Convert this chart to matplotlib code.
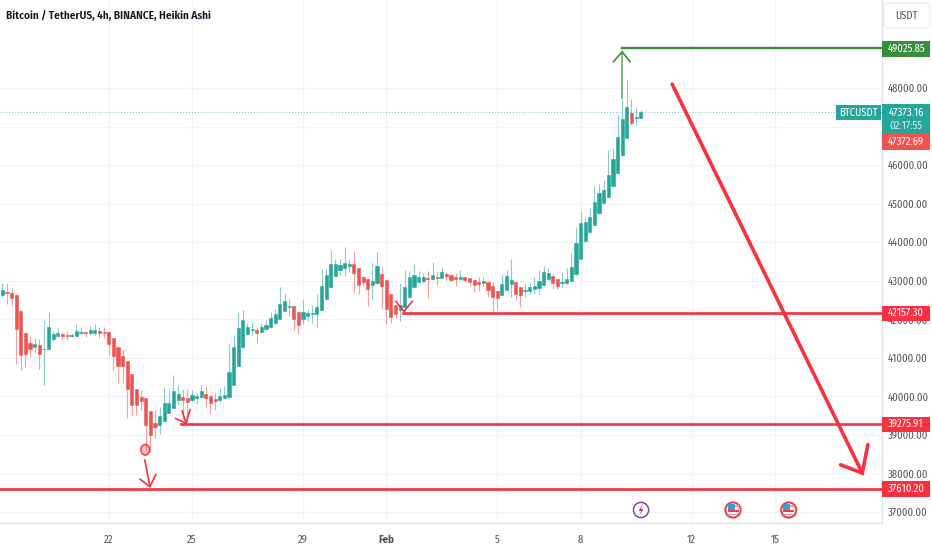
import matplotlib
matplotlib.use("Agg")
import matplotlib.pyplot as plt
from matplotlib.patches import Ellipse, Rectangle, Circle, Polygon, FancyBboxPatch
from matplotlib.transforms import Affine2D

plt.rcParams['font.family'] = ['Fira Sans Condensed', 'Roboto Condensed', 'Liberation Sans', 'DejaVu Sans']

# heikin ashi candles
opens = [42621, 42708, 42682, 42630, 42206, 41653, 41385, 41290, 41333, 41220,
         41220, 41488, 41558, 41610, 41592, 41575, 41575, 41635, 41661, 41635,
         41653, 41687, 41670, 41661, 41506, 41281, 41047, 40909, 40572, 40191,
         39984, 39949, 39612, 39301, 39266, 39370, 39577, 39707, 39915, 39984,
         39949, 39897, 39967, 39984, 40070, 40010, 39923, 39897, 39967, 39984,
         40304, 40797, 41272, 41618, 41722, 41722, 41670, 41739, 41800, 41895,
         42016, 42223, 42319, 42344, 42189, 42016, 42085, 42137, 42137, 42241,
         42535, 42837, 43131, 43278, 43330, 43391, 43434, 43330, 43105, 43045,
         42889, 42933, 43175, 43028, 42647, 42370, 42249, 42310, 42578, 42837,
         42976, 42993, 43062, 43036, 43097, 43079, 43166, 43140, 43089, 43045,
         43089, 43063, 43028, 42968, 42933, 42968, 42864, 42725, 42639, 42760,
         42924, 42968, 42829, 42734, 42743, 42777, 42812, 42898, 43045, 43123,
         43045, 42950, 42933, 43002, 43175, 43573, 44040, 44273, 44455, 44758,
         45017, 45181, 45457, 45786, 46253, 46711, 47342, 47213, 47230]
closes = [42760, 42690, 42552, 41756, 41073, 41108, 41220, 41350, 41108, 41229,
          41791, 41610, 41644, 41566, 41575, 41592, 41687, 41670, 41635, 41713,
          41713, 41635, 41635, 41359, 41039, 40797, 40779, 40200, 39785, 39785,
          39880, 39266, 39007, 39214, 39491, 39828, 39828, 40148, 40070, 39897,
          39863, 40027, 40010, 40131, 39967, 39820, 39880, 40010, 40027, 40624,
          41290, 41765, 41973, 41808, 41748, 41653, 41791, 41843, 42025, 42128,
          42405, 42466, 42344, 42016, 41852, 42189, 42163, 42154, 42327, 42872,
          43149, 43425, 43434, 43399, 43469, 43425, 43209, 42898, 42967, 42777,
          42993, 43373, 42872, 42275, 42068, 42137, 42370, 42846, 43105, 43149,
          43088, 43088, 43036, 43149, 43079, 43226, 43115, 43011, 43037, 43106,
          43020, 42976, 42890, 42916, 42985, 42760, 42587, 42553, 42907, 43123,
          43011, 42665, 42630, 42760, 42829, 42864, 42994, 43227, 43192, 42942,
          42872, 42968, 43045, 43348, 43988, 44507, 44524, 44654, 45043, 45268,
          45346, 45742, 46149, 46728, 47187, 47507, 47092, 47256, 47385]
highs = [42933, 42933, 42803, 42630, 42206, 41653, 41566, 41506, 41480, 41981,
         42189, 41687, 41765, 41670, 41687, 41653, 41869, 41808, 41679, 41834,
         41869, 41791, 41808, 41670, 41506, 41281, 41220, 40909, 40572, 40191,
         40165, 39949, 39612, 39647, 39733, 40252, 40183, 40546, 40295, 40191,
         40183, 40165, 40079, 40295, 40269, 40036, 40079, 40226, 40269, 41350,
         41592, 42189, 42241, 41912, 41895, 41791, 41895, 41981, 42189, 42258,
         42846, 42690, 42543, 42344, 42189, 42509, 42275, 42370, 42647, 43296,
         43296, 43797, 43564, 43564, 43884, 43555, 43763, 43330, 43123, 43045,
         43469, 43737, 43365, 43028, 42647, 42370, 42950, 43287, 43261, 43434,
         43261, 43192, 43252, 43477, 43235, 43365, 43218, 43140, 43192, 43279,
         43106, 43063, 43028, 43106, 43106, 42968, 42976, 42725, 43166, 43279,
         43564, 42968, 42829, 42942, 42933, 43106, 43279, 43383, 43322, 43175,
         43045, 43192, 43322, 43711, 44386, 44783, 44645, 44896, 45467, 45510,
         45614, 46391, 46434, 47299, 47688, 48207, 47705, 47498, 47429]
lows = [42587, 42396, 42344, 40840, 40684, 40753, 41030, 41134, 40719, 40286,
        41220, 41445, 41532, 41454, 41462, 41532, 41566, 41627, 41549, 41592,
        41592, 41506, 41506, 41065, 40676, 40356, 40356, 39448, 39491, 39517,
        39638, 38609, 38566, 38912, 39024, 39353, 39560, 39690, 39776, 39430,
        39344, 39880, 39802, 39967, 39733, 39534, 39638, 39863, 39949, 39967,
        40295, 40788, 41255, 41592, 41592, 41393, 41653, 41722, 41782, 41878,
        41999, 42206, 42085, 41713, 41618, 41878, 41964, 41895, 41808, 42223,
        42517, 42820, 43114, 43149, 43123, 43235, 42690, 42656, 42872, 42344,
        42509, 42915, 42267, 41869, 41895, 42025, 41955, 42154, 42561, 42820,
        42933, 42933, 42561, 43019, 42889, 43062, 43002, 42968, 42872, 43020,
        42976, 42872, 42717, 42743, 42864, 42578, 42224, 42259, 42622, 42734,
        42587, 42501, 42328, 42587, 42656, 42656, 42665, 42890, 43028, 42795,
        42777, 42847, 42916, 42985, 43158, 43556, 44023, 44256, 44438, 44740,
        45000, 45163, 45440, 45769, 46235, 46694, 47040, 47040, 47213]

price_ticks = [37000, 38000, 39000, 40000, 41000, 42000, 43000, 44000, 45000, 46000, 47000, 48000]
date_pos = [23, 41, 65, 83, 107, 125, 149, 167]
date_labels = ['22', '25', '29', 'Feb', '5', '8', '12', '15']

last_price = 47373.16
level_green = 49025.85
levels_red = [42157.30, 39275.91, 37610.20]
levels_red_start = [86.6, 38.6, -0.5]
level_green_start = 134

GREEN = '#26a69a'
RED = '#ef5350'
DRAW_RED = '#f7313f'
DRAW_GREEN = '#388e3c'
FS = 7.7

fig = plt.figure(figsize=(9.32, 5.5), dpi=100, facecolor='white')
ax = fig.add_axes([0, 1 - 523 / 550, 882 / 932, 523 / 550])
ax.set_xlim(-0.5, 190.16)
ax.set_ylim(36716, 50283)

# top-left pixel coords for the chrome round the chart
pix = Affine2D().scale(1, -1).translate(0, 550)

for i in range(len(opens)):
    c = GREEN if closes[i] >= opens[i] else RED
    ax.vlines(i, lows[i], highs[i], color=c, lw=0.8, alpha=0.55, zorder=2)
    ax.bar(i, closes[i] - opens[i], bottom=opens[i], width=0.68, color=c, edgecolor=c, lw=0.4, zorder=3)

ax.axhline(last_price, color=GREEN, ls=':', lw=0.8, alpha=0.6, zorder=1)

# hand drawn levels
ax.plot([level_green_start, 190.16], [level_green, level_green], color=DRAW_GREEN, lw=1.7, zorder=5)
for lv, st in zip(levels_red, levels_red_start):
    ax.plot([st, 190.16], [lv, lv], color=DRAW_RED, lw=1.9, zorder=5)

# green arrow up
ax.plot([134, 134], [47750, 48940], color=DRAW_GREEN, lw=1.2, alpha=0.75, zorder=5)
ax.plot([132.1, 134, 135.7], [48680, 48940, 48680], color=DRAW_GREEN, lw=1.2, zorder=5)
# small red arrows
ax.plot([85.1, 86.8, 88.6], [42465, 42205, 42465], color=DRAW_RED, lw=1.2, zorder=5)
ax.plot([38.9, 39.7], [39620, 39300], color=DRAW_RED, lw=1.2, zorder=5)
ax.plot([37.5, 39.7, 40.6], [39425, 39300, 39660], color=DRAW_RED, lw=1.2, zorder=5)
ax.plot([30.8, 31.9], [38350, 37660], color=DRAW_RED, lw=1.2, zorder=5)
ax.plot([29.8, 31.9, 33.2], [37850, 37660, 37975], color=DRAW_RED, lw=1.2, zorder=5)
ax.add_patch(Ellipse((30.9, 38615), 1.9, 275, facecolor=DRAW_RED, edgecolor=DRAW_RED, alpha=0.3, zorder=5))
ax.add_patch(Ellipse((30.9, 38615), 1.9, 275, facecolor='none', edgecolor=DRAW_RED, lw=1.0, zorder=5))
# big target arrow
ax.plot([144.8, 185.9], [48100, 38010], color=DRAW_RED, lw=2.6, solid_capstyle='round', zorder=6)
ax.plot([181.2, 185.9, 187.1], [38225, 38010, 38750], color=DRAW_RED, lw=2.6,
        solid_capstyle='round', solid_joinstyle='miter', zorder=6)

ax.set_xticks(date_pos)
ax.set_xticklabels(date_labels, fontsize=FS, color='#50535e')
ax.get_xticklabels()[3].set_fontweight('bold')
ax.set_yticks(price_ticks)
# 47000 sits right under the last price tag, so it shows no label
ax.set_yticklabels(['' if p == 47000 else '%.2f' % p for p in price_ticks], fontsize=FS, color='#50535e')
ax.yaxis.tick_right()
ax.tick_params(axis='y', length=0, pad=4.3)
ax.tick_params(axis='x', length=0, pad=8)
ax.grid(True, color='#f4f4f5', lw=0.8, zorder=0)
ax.set_axisbelow(True)
for s in ['top', 'left']:
    ax.spines[s].set_visible(False)
for s in ['right', 'bottom']:
    ax.spines[s].set_color('#e0e3eb')
    ax.spines[s].set_linewidth(1.0)


def tag(y0, y1, color, text, x0=882, x1=930, tx=906, ty=None, tc='white'):
    fig.add_artist(Rectangle((x0, y0), x1 - x0, y1 - y0, transform=pix, facecolor=color, edgecolor='none', zorder=3))
    fig.text(tx, (y0 + y1) / 2 if ty is None else ty, text, transform=pix, color=tc, fontsize=FS,
             ha='center', va='center', zorder=4)


tag(41, 56.5, DRAW_GREEN, '49025.85')
tag(104, 134, GREEN, '47373.16', ty=112.5)
fig.text(906, 126, '02:17:55', transform=pix, color='#d5f0ec', fontsize=FS, ha='center', va='center', zorder=4)
tag(134, 150, RED, '47372.69')
tag(105, 120, GREEN, 'BTCUSDT', x0=836, x1=881, tx=858.5)
tag(305.5, 321, DRAW_RED, '42157.30')
tag(416.5, 432, DRAW_RED, '39275.91')
tag(481, 496.5, DRAW_RED, '37610.20')

# USDT button
fig.add_artist(FancyBboxPatch((887, 6), 40, 19, boxstyle='round,pad=3,rounding_size=4', transform=pix,
                              facecolor='white', edgecolor='#ebecef', lw=0.9, zorder=3))
fig.text(906.5, 16, 'USDT', transform=pix, color='#50535e', fontsize=FS, ha='center', va='center', zorder=4)

fig.text(6, 16, 'Bitcoin / TetherUS, 4h, BINANCE, Heikin Ashi', transform=pix, color='#131722',
         fontsize=8.1, fontweight='semibold', ha='left', va='center', zorder=4)

# event icons on the time axis
fig.add_artist(Circle((641, 510), 7.6, transform=pix, facecolor='white', edgecolor='#7b4a9e', lw=1.1, zorder=3))
fig.add_artist(Polygon([(643, 504), (638.5, 511), (641, 511), (639, 516), (643.5, 509), (641, 509)], closed=True,
                       transform=pix, facecolor='#c2356f', edgecolor='none', zorder=4))
for fx in [733, 788.7]:
    fig.add_artist(Circle((fx, 510), 7.6, transform=pix, facecolor='white', edgecolor='#f23645', lw=1.4, zorder=3))
    fig.add_artist(Rectangle((fx - 5.5, 504), 7, 6, transform=pix, facecolor='#2f9fd8', edgecolor='none', zorder=4))
    fig.add_artist(Rectangle((fx + 1.5, 505), 4, 2, transform=pix, facecolor='#f4a0a6', edgecolor='none', zorder=4))
    fig.add_artist(Rectangle((fx - 5.5, 509.5), 11, 2, transform=pix, facecolor='#f23645', edgecolor='none', zorder=4))
    fig.add_artist(Rectangle((fx - 4.5, 513.5), 9, 1.6, transform=pix, facecolor='#f4888f', edgecolor='none', zorder=4))

fig.savefig('out.png', dpi=100)
